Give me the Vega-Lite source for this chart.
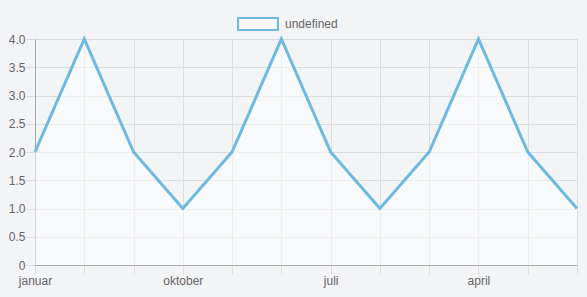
{
  "$schema": "https://vega.github.io/schema/vega-lite/v6.json",
  "width": 542,
  "height": 226,
  "autosize": {"type": "none"},
  "padding": {"left": 35, "top": 39, "right": 10, "bottom": 32},
  "background": "#f3f4f6",
  "config": {
    "view": {"stroke": null},
    "font": "Liberation Sans",
    "axis": {
      "labelFont": "Liberation Sans",
      "labelFontSize": 12,
      "labelColor": "#666666",
      "gridColor": "#dcdddf",
      "tickColor": "#dcdddf",
      "domainColor": "#a8a8a8",
      "tickSize": 9,
      "titleFontSize": 0
    },
    "legend": {
      "labelFont": "Liberation Sans",
      "labelFontSize": 12,
      "labelColor": "#666666"
    }
  },
  "data": {
    "values": [
      {"idx": 0, "month": "januar", "value": 2, "series": "undefined"},
      {"idx": 1, "month": "april", "value": 4, "series": "undefined"},
      {"idx": 2, "month": "juli", "value": 2, "series": "undefined"},
      {"idx": 3, "month": "oktober", "value": 1, "series": "undefined"},
      {"idx": 4, "month": "januar", "value": 2, "series": "undefined"},
      {"idx": 5, "month": "april", "value": 4, "series": "undefined"},
      {"idx": 6, "month": "juli", "value": 2, "series": "undefined"},
      {"idx": 7, "month": "oktober", "value": 1, "series": "undefined"},
      {"idx": 8, "month": "januar", "value": 2, "series": "undefined"},
      {"idx": 9, "month": "april", "value": 4, "series": "undefined"},
      {"idx": 10, "month": "juli", "value": 2, "series": "undefined"},
      {"idx": 11, "month": "oktober", "value": 1, "series": "undefined"}
    ]
  },
  "encoding": {
    "x": {
      "field": "idx",
      "type": "ordinal",
      "scale": {"type": "point", "padding": 0},
      "axis": {
        "title": null,
        "labelAngle": 0,
        "labelPadding": 1,
        "grid": true,
        "labelExpr": "datum.value == 0 ? 'januar' : datum.value == 3 ? 'oktober' : datum.value == 6 ? 'juli' : datum.value == 9 ? 'april' : ''"
      }
    },
    "y": {
      "field": "value",
      "type": "quantitative",
      "scale": {"domain": [0, 4], "nice": false},
      "axis": {
        "title": null,
        "values": [0, 0.5, 1, 1.5, 2, 2.5, 3, 3.5, 4],
        "labelPadding": 1,
        "labelExpr": "datum.value == 0 ? '0' : format(datum.value, '.1f')"
      }
    }
  },
  "layer": [
    {
      "mark": {"type": "area", "color": "#ffffff", "opacity": 0.5}
    },
    {
      "mark": {"type": "line", "strokeWidth": 3},
      "encoding": {
        "stroke": {
          "field": "series",
          "type": "nominal",
          "scale": {"range": ["#6cbadf"]},
          "legend": {
            "title": null,
            "orient": "none",
            "legendX": 202,
            "legendY": -36,
            "padding": 0,
            "symbolType": "M-1,-0.3L1,-0.3L1,0.3L-1,0.3Z",
            "symbolSize": 1600,
            "symbolStrokeWidth": 2,
            "symbolFillColor": "#f8f9fb",
            "labelOffset": 6
          }
        }
      }
    }
  ]
}
